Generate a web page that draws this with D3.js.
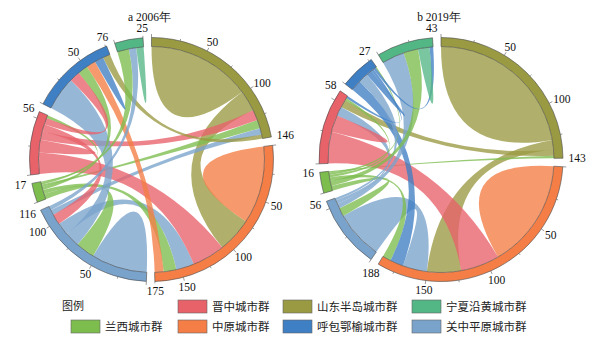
<!DOCTYPE html>
<html><head><meta charset="utf-8">
<script src="https://cdn.jsdelivr.net/npm/d3@7"></script>
<style>body{margin:0;background:#fff}svg{display:block}
.num{font-family:"Liberation Serif","Times New Roman","DejaVu Serif",serif;}
.cjk{font-family:"Noto Sans CJK SC","Noto Sans",sans-serif;}
</style>
</head><body>
<svg id="c" width="594" height="345"></svg>
<script>
const groupNames = ["山东半岛城市群","中原城市群","关中平原城市群","兰西城市群","晋中城市群","呼包鄂榆城市群","宁夏沿黄城市群"];
const keys = ["山东","中原","关中","兰西","晋中","呼包","宁夏"];
const groupColors = ["#9a9a43","#f47e45","#7aa3cc","#7cbd4e","#e8626a","#3f7fc4","#53b685"];
const titles = ["a 2006年","b 2019年"];
// [sector A, sector B, width at A, width at B, colour owner]
const links2006 = [
  ["山东","山东",98,98,"山东"],
  ["山东","中原",20,33,"山东"],
  ["山东","晋中",10,8,"晋中"],
  ["山东","兰西",8,2,"兰西"],
  ["山东","关中",6,5,"关中"],
  ["山东","呼包",4,7,"山东"],
  ["中原","中原",73.5,73.5,"中原"],
  ["中原","晋中",31,20,"晋中"],
  ["中原","关中",17,12,"关中"],
  ["中原","兰西",12,4,"兰西"],
  ["中原","呼包",8.5,9,"中原"],
  ["关中","关中",53,53,"关中"],
  ["关中","兰西",18,5,"兰西"],
  ["关中","呼包",14,32,"关中"],
  ["关中","晋中",10,7,"晋中"],
  ["关中","宁夏",4,7,"关中"],
  ["兰西","呼包",3,9.5,"兰西"],
  ["兰西","宁夏",2,11,"兰西"],
  ["兰西","晋中",1,3,"兰西"],
  ["晋中","晋中",12,12,"晋中"],
  ["晋中","呼包",6,10,"晋中"],
  ["呼包","呼包",8.5,8.5,"呼包"],
  ["宁夏","宁夏",7,7,"宁夏"]
];
const links2019 = [
  ["山东","山东",128,128,"山东"],
  ["山东","中原",8,28,"山东"],
  ["山东","晋中",5,6.5,"山东"],
  ["山东","兰西",2,1,"兰西"],
  ["中原","中原",90,90,"中原"],
  ["中原","晋中",32,26,"晋中"],
  ["中原","关中",20,40,"关中"],
  ["中原","呼包",11,9,"呼包"],
  ["中原","兰西",7,3,"兰西"],
  ["关中","兰西",7,4,"兰西"],
  ["关中","宁夏",4,18.5,"关中"],
  ["关中","晋中",3,7.5,"关中"],
  ["关中","呼包",2,8,"关中"],
  ["兰西","宁夏",4,12,"兰西"],
  ["兰西","晋中",2,2,"兰西"],
  ["兰西","呼包",2,1,"兰西"],
  ["晋中","晋中",14,14,"晋中"],
  ["晋中","呼包",2,2,"呼包"],
  ["呼包","呼包",5,5,"呼包"],
  ["呼包","宁夏",2,3,"呼包"],
  ["宁夏","宁夏",9.5,9.5,"宁夏"]
];
const legendRows = [["图例","晋中","山东","宁夏"],["兰西","中原","呼包","关中"]];

const svg = d3.select("#c");
const rIn = 113, rOut = 122, rLab = 128;
const n = keys.length;
const color = d3.scaleOrdinal(keys, groupColors);

function drawChart(links, cx, cy, title) {
  const M = Array.from({length: n}, () => new Array(n).fill(0));
  const owner = new Map();
  links.forEach(([a, b, va, vb, o]) => {
    const i = keys.indexOf(a), j = keys.indexOf(b);
    M[i][j] = va; if (i !== j) M[j][i] = vb;
    owner.set(Math.min(i, j) + "-" + Math.max(i, j), o);
  });
  const chords = d3.chord().padAngle(4 * Math.PI / 180).sortSubgroups(d3.descending)(M);
  const g = svg.append("g").attr("transform", `translate(${cx},${cy})`);
  const ribbon = d3.ribbon().radius(rIn);
  g.append("g").selectAll("path").data(chords).join("path")
    .attr("d", ribbon)
    .attr("fill", d => color(owner.get(Math.min(d.source.index, d.target.index) + "-" + Math.max(d.source.index, d.target.index))))
    .attr("fill-opacity", 0.78);
  const arc = d3.arc().innerRadius(rIn).outerRadius(rOut);
  const gg = g.append("g").selectAll("g").data(chords.groups).join("g");
  gg.append("path").attr("d", arc).attr("fill", d => color(keys[d.index]))
    .attr("stroke", "#4a4a4a").attr("stroke-width", 0.6);
  gg.each(function(d) {
    const k = (d.endAngle - d.startAngle) / d.value;
    const s = d3.select(this);
    const ticks = d3.range(0, d.value + 1e-6, 25);
    s.selectAll("line").data(ticks).join("line")
      .each(function(v) {
        const a = d.startAngle + v * k, len = v % 50 === 0 ? 3.5 : 2;
        d3.select(this).attr("x1", rOut * Math.sin(a)).attr("y1", -rOut * Math.cos(a))
          .attr("x2", (rOut + len) * Math.sin(a)).attr("y2", -(rOut + len) * Math.cos(a));
      }).attr("stroke", "#555").attr("stroke-width", 0.6);
    const labs = d3.range(50, d.value - 8, 50).concat([d.value]);
    s.selectAll("text").data(labs).join("text")
      .attr("class", "num")
      .text(v => v)
      .each(function(v) {
        const a = d.startAngle + v * k;
        const sx = Math.sin(a), cyy = -Math.cos(a);
        const w = String(v).length * 5.5;
        d3.select(this).attr("x", rLab * sx + sx * w / 2).attr("y", rLab * cyy + cyy * 4 + 4);
      })
      .attr("text-anchor", "middle").attr("font-size", 11.5).attr("fill", "#111");
  });
  svg.append("text").attr("class", "num").attr("x", cx - 2).attr("y", 21).attr("text-anchor", "middle")
    .attr("font-size", 11.5).attr("fill", "#111").text(title);
}
drawChart(links2006, 151.5, 159.5, titles[0]);
drawChart(links2019, 441, 159.5, titles[1]);

const colX = [71, 178, 283, 412];
const rowY = [300, 320];
legendRows.forEach((row, ri) => row.forEach((key, ci) => {
  const x = colX[ci], y = rowY[ri];
  if (key === "图例") {
    svg.append("text").attr("class", "cjk").attr("x", 62).attr("y", y + 10).attr("font-size", 11)
      .attr("fill", "#222").text("图例");
    return;
  }
  svg.append("rect").attr("x", x).attr("y", y).attr("width", 29).attr("height", 13)
    .attr("fill", color(key)).attr("stroke", "#666").attr("stroke-width", 0.6);
  svg.append("text").attr("class", "cjk").attr("x", x + 34).attr("y", y + 11).attr("font-size", 11.5)
    .attr("fill", "#222").text(groupNames[keys.indexOf(key)]);
}));
</script>
</body></html>
